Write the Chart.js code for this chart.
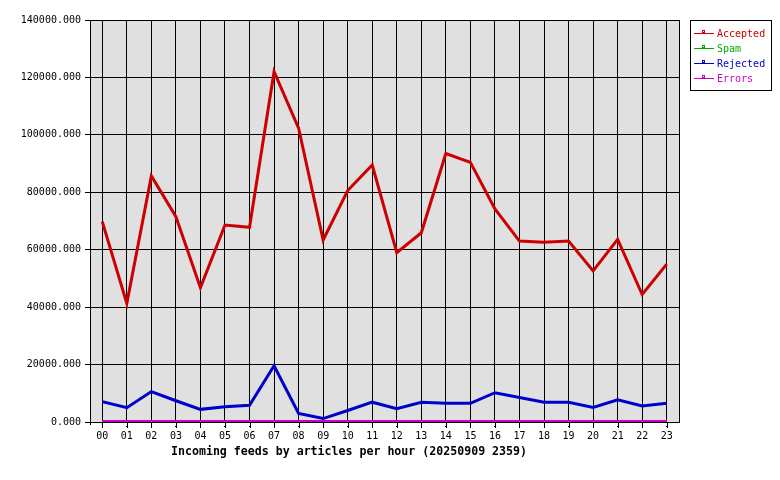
<!DOCTYPE html>
<html>
<head>
<meta charset="utf-8">
<script src="https://cdn.jsdelivr.net/npm/chart.js@4/dist/chart.umd.min.js"></script>
<style>
html,body{margin:0;padding:0;background:#fff;}
canvas{display:block;}
</style>
</head>
<body>
<canvas id="c" width="780" height="480"></canvas>
<script>
const hours = ["00","01","02","03","04","05","06","07","08","09","10","11","12","13","14","15","16","17","18","19","20","21","22","23"];
const accepted = [69800,41300,85700,71500,46800,68600,67800,122000,102300,63400,80600,89500,59000,65900,93500,90400,74200,63000,62600,63000,52600,63600,44400,55000];
const spam = [0,0,0,0,0,0,0,0,0,0,0,0,0,0,0,0,0,0,0,0,0,0,0,0];
const rejected = [7100,5000,10600,7400,4400,5300,5800,19600,3000,1200,4000,6900,4600,6900,6500,6500,10200,8500,6900,6900,5100,7700,5600,6500];
const errors = [0,0,0,0,0,0,0,0,0,0,0,0,0,0,0,0,0,0,0,0,0,0,0,0];
const titleText = "Incoming feeds by articles per hour (20250909 2359)";
const yTicks = [0,20000,40000,60000,80000,100000,120000,140000];

const FONT = "'DejaVu Sans Mono', 'Liberation Mono', monospace";

const decor = {
  id: 'decor',
  beforeDraw(chart) {
    const ctx = chart.ctx, a = chart.chartArea;
    ctx.save();
    ctx.fillStyle = '#ffffff';
    ctx.fillRect(0, 0, chart.width, chart.height);
    ctx.fillStyle = '#e0e0e0';
    ctx.fillRect(a.left, a.top, a.right - a.left, a.bottom - a.top);
    ctx.restore();
  },
  afterDraw(chart) {
    const ctx = chart.ctx, a = chart.chartArea;
    ctx.save();
    ctx.strokeStyle = '#000';
    ctx.lineWidth = 1;
    // right border
    ctx.beginPath();
    ctx.moveTo(Math.round(a.right) + 0.5, a.top);
    ctx.lineTo(Math.round(a.right) + 0.5, a.bottom + 1);
    ctx.stroke();
    // bottom axis line redrawn over data
    ctx.fillStyle = '#000';
    ctx.fillRect(Math.round(a.left), Math.round(a.bottom), Math.round(a.right - a.left) + 1, 1);
    ctx.fillStyle = '#fff';
    ctx.fillRect(Math.round(a.left), Math.round(a.bottom) + 1, Math.round(a.right - a.left) + 1, 3);
    // restore tick marks under the axis
    const xs = chart.scales.x;
    ctx.fillStyle = '#000';
    hours.forEach((h, i) => {
      const px = Math.round(xs.getPixelForValue(i));
      ctx.fillRect(px, Math.round(a.bottom), 1, 6);
    });
    ctx.fillRect(Math.round(a.left), Math.round(a.bottom), 1, 3);
    // legend
    const lx = 690, ly = 20, lw = 81, lh = 70;
    ctx.fillStyle = '#fff';
    ctx.fillRect(lx, ly, lw, lh);
    ctx.strokeRect(lx + 0.5, ly + 0.5, lw, lh);
    const ds = chart.data.datasets;
    ctx.font = '10px ' + FONT;
    ctx.textBaseline = 'middle';
    ctx.textAlign = 'left';
    ds.forEach((d, i) => {
      const y = 33 + i * 15;
      ctx.strokeStyle = d.borderColor;
      ctx.lineWidth = 1;
      ctx.beginPath();
      ctx.moveTo(694, y + 0.5);
      ctx.lineTo(714, y + 0.5);
      ctx.stroke();
      ctx.strokeRect(702.5, y - 2.5, 2, 2);
      ctx.fillStyle = d.borderColor;
      ctx.fillText(d.label, 717, y + 1);
    });
    // title
    ctx.fillStyle = '#000';
    ctx.font = 'bold 11.6px ' + FONT;
    ctx.textAlign = 'center';
    ctx.fillText(titleText, 349, 452);
    ctx.restore();
  }
};

new Chart(document.getElementById('c'), {
  type: 'line',
  data: {
    labels: hours,
    datasets: [
      {label: 'Accepted', data: accepted, borderColor: '#cc0000', order: 4},
      {label: 'Spam', data: spam, borderColor: '#00aa00', order: 3, borderWidth: 4},
      {label: 'Rejected', data: rejected, borderColor: '#0000cc', order: 2},
      {label: 'Errors', data: errors, borderColor: '#cc00cc', order: 1, borderWidth: 4}
    ]
  },
  options: {
    responsive: false,
    animation: false,
    devicePixelRatio: 1,
    layout: {padding: {left: 0, right: 101, top: 20, bottom: 0}},
    elements: {
      line: {borderWidth: 3, tension: 0, fill: false, borderJoinStyle: 'miter'},
      point: {radius: 0, hoverRadius: 0}
    },
    datasets: {line: {clip: false}},
    plugins: {legend: {display: false}, tooltip: {enabled: false}, title: {display: false}},
    scales: {
      x: {
        offset: true,
        grid: {offset: false, color: '#000', lineWidth: 1, tickLength: 5, drawTicks: true},
        border: {color: '#000', width: 1},
        ticks: {color: '#000', font: {family: FONT, size: 10}, maxRotation: 0, autoSkip: false, padding: 3},
        afterFit(s) { s.height = 58; }
      },
      y: {
        min: 0, max: 140000,
        afterBuildTicks(s) { s.ticks = yTicks.map(v => ({value: v})); },
        grid: {color: '#000', lineWidth: 1, tickLength: 5, drawTicks: true},
        border: {color: '#000', width: 1},
        ticks: {color: '#000', font: {family: FONT, size: 10}, padding: 4,
          callback: v => Number(v).toFixed(3)},
        afterFit(s) { s.width = 90; }
      }
    }
  },
  plugins: [decor]
});
</script>
</body>
</html>
